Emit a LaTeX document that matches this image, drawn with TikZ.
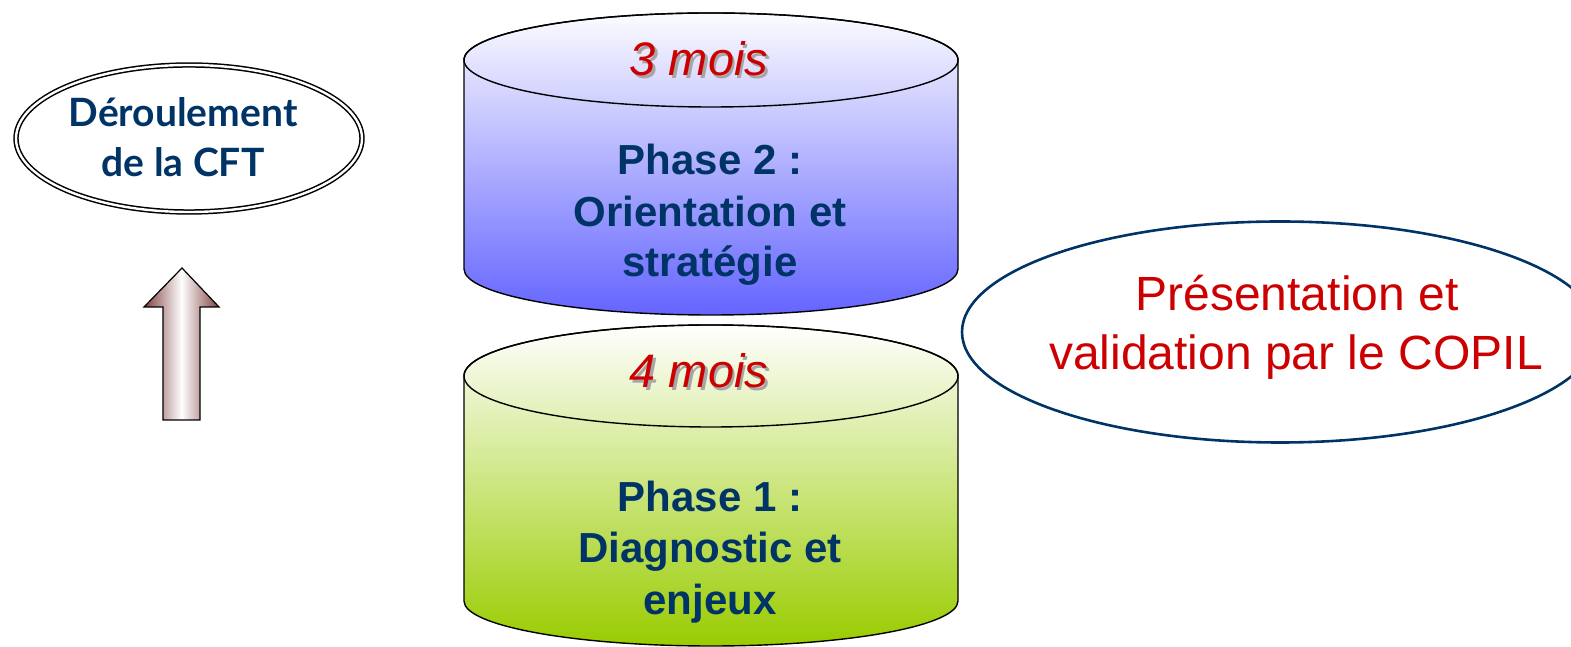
\documentclass[tikz,border=0pt]{standalone}
\usepackage{fontspec}
\setmainfont{Liberation Sans}
\newfontfamily\latofont{Lato}
\usetikzlibrary{shapes.geometric}
\definecolor{dblue}{RGB}{0,51,102}
\definecolor{dred}{RGB}{204,0,0}
\definecolor{cylblue}{RGB}{100,100,255}
\definecolor{cyltop}{RGB}{252,252,255}
\definecolor{cylgreen}{RGB}{153,204,0}
\definecolor{arrowbrown}{RGB}{130,65,65}
\tikzset{
  x=1pt, y=1pt,
  phasetext/.style={anchor=base, inner sep=0pt, text=dblue, font=\fontsize{42}{50}\selectfont\bfseries},
  moistext/.style={anchor=base, inner sep=0pt, text=dred, font=\fontsize{47}{56}\selectfont\itshape},
  moisshadow/.style={anchor=base, inner sep=0pt, text=black!35, font=\fontsize{47}{56}\selectfont\itshape},
  copiltext/.style={anchor=base, inner sep=0pt, text=dred, font=\fontsize{48}{58}\selectfont},
  cfttext/.style={anchor=base, inner sep=0pt, text=dblue, font=\latofont\bfseries\fontsize{39}{46}\selectfont},
  cylline/.style={draw=black, line width=1.4pt},
}
\begin{document}
\begin{tikzpicture}
\useasboundingbox (0,0) rectangle (1571,647);

% left double ellipse
\node[ellipse, draw=black, line width=1.5pt, double=white, double distance=2.4pt,
      minimum width=346, minimum height=147, inner sep=0pt] (cft) at (189,508.5) {};
\node[cfttext] (cft1) at (183,520) {Déroulement};
\node[cfttext] (cft2) at (183,470) {de la CFT};

% block arrow
\path[draw=black, line width=1.2pt, left color=arrowbrown, right color=arrowbrown, middle color=white]
  (163,227) -- (163,340) -- (144,340) -- (182,379) -- (219,340) -- (200,340) -- (200,227) -- cycle;

% top cylinder (phase 2)
\path[cylline, top color=cyltop, bottom color=cylblue]
  (464,587) -- (464,378) arc[start angle=180, end angle=360, x radius=247, y radius=46]
  -- (958,587) arc[start angle=0, end angle=180, x radius=247, y radius=47] -- cycle;
\draw[cylline] (711,587) ellipse[x radius=247, y radius=47];

% bottom cylinder (phase 1)
\path[cylline, top color=white, bottom color=cylgreen]
  (464,271) -- (464,46) arc[start angle=180, end angle=360, x radius=247, y radius=45]
  -- (958,271) arc[start angle=0, end angle=180, x radius=247, y radius=51] -- cycle;
\draw[cylline] (711,271) ellipse[x radius=247, y radius=51];

% texts of top cylinder
\node[moisshadow] (m3s) at (701.5,568.5) {3 mois};
\node[moistext] (m3) at (699,571) {3 mois};
\node[phasetext] (p2a) at (710,472) {Phase 2 :};
\node[phasetext] (p2b) at (710,420) {Orientation et};
\node[phasetext] (p2c) at (710,370) {stratégie};

% texts of bottom cylinder
\node[moisshadow] (m4s) at (701.5,256.5) {4 mois};
\node[moistext] (m4) at (699,259) {4 mois};
\node[phasetext] (p1a) at (710,135) {Phase 1 :};
\node[phasetext] (p1b) at (710,84) {Diagnostic et};
\node[phasetext] (p1c) at (710,32) {enjeux};

% right ellipse
\node[ellipse, draw=dblue, line width=2.6pt, minimum width=636, minimum height=221, inner sep=0pt] (copil) at (1280,315) {};
\node[copiltext] (cop1) at (1297,336) {Présentation et};
\node[copiltext] (cop2) at (1296,277) {validation par le COPIL};
\end{tikzpicture}
\end{document}
